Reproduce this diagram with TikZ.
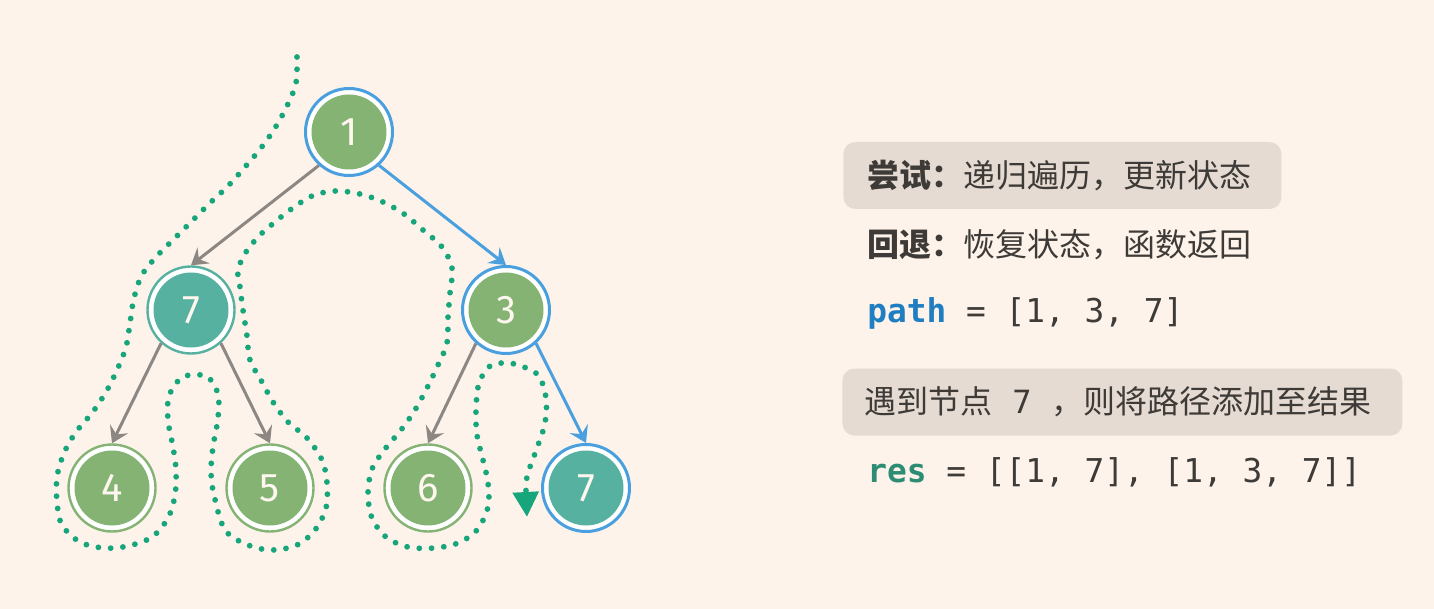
\documentclass[tikz,border=0pt]{standalone}
\usepackage{fontspec}
\setmainfont{Fira Sans}
\newfontfamily\cjk{Noto Sans CJK SC}
\newfontfamily\codefont{DejaVu Sans Mono}
\usetikzlibrary{calc, arrows.meta}
\definecolor{bgcol}{HTML}{FDF3EA}
\definecolor{leafgreen}{HTML}{84B374}
\definecolor{tealfill}{HTML}{56B1A0}
\definecolor{pathblue}{HTML}{4A9FDF}
\definecolor{edgegray}{HTML}{8C8783}
\definecolor{dotgreen}{HTML}{17A67C}
\definecolor{boxgray}{HTML}{E5DBD2}
\definecolor{inktext}{HTML}{3D3A37}
\definecolor{codeblue}{HTML}{1F7DC1}
\definecolor{codeteal}{HTML}{2D8C74}
\definecolor{nodetext}{HTML}{FFF7EF}
\tikzset{treenode/.style 2 args={circle, minimum size=43.5pt, inner sep=0pt,
    draw=#1, line width=1.2pt, fill=white, text=nodetext,
    font=\fontsize{20}{22}\selectfont,
    path picture={\fill[#2] (path picture bounding box.center) circle (18.75pt);}}}
\tikzset{pathnode/.style={treenode={pathblue}{#1}, line width=1.5pt}}
\tikzset{treeedge/.style={draw=edgegray, line width=1.5pt,
    -{Stealth[length=8pt,width=10pt,inset=3pt]}}}
\tikzset{pathedge/.style={treeedge, draw=pathblue}}
\tikzset{trace/.style={draw=dotgreen, line width=2.9pt, line cap=round,
    dash pattern=on 0pt off 6.15pt}}
\tikzset{notebox/.style={fill=boxgray, rounded corners=6pt, anchor=west,
    minimum height=33.5pt, inner xsep=12pt, align=left, text=inktext,
    font=\cjk\fontsize{16}{20}\selectfont}}
\tikzset{noteline/.style={anchor=west, inner sep=0pt, text=inktext,
    font=\cjk\fontsize{16}{20}\selectfont}}
\tikzset{codeline/.style={anchor=west, inner sep=0pt, text=inktext,
    font=\codefont\fontsize{16.4}{20}\selectfont}}

\begin{document}
\begin{tikzpicture}[x=0.5pt, y=-0.5pt]
  \fill[bgcol] (0,0) rectangle (1434,609);
  \useasboundingbox (0,0) rectangle (1434,609);

  % tree
  \node[pathnode=leafgreen] (n1) at (349,132) {1};
  \node[treenode={tealfill}{tealfill}] (n7a) at ($(n1)+(-158,178)$) {7};
  \node[pathnode=leafgreen] (n3) at ($(n1)+(157,178)$) {3};
  \node[treenode={leafgreen}{leafgreen}] (n4) at ($(n7a)+(-79,178)$) {4};
  \node[treenode={leafgreen}{leafgreen}] (n5) at ($(n7a)+(79,178)$) {5};
  \node[treenode={leafgreen}{leafgreen}] (n6) at ($(n3)+(-78,178)$) {6};
  \node[pathnode=tealfill] (n7b) at ($(n3)+(80,178)$) {7};

  \draw[treeedge] (n1.228) -- (n7a.north);
  \draw[pathedge] (n1.312) -- (n3.north);
  \draw[treeedge] (n7a.228) -- (n4.north);
  \draw[treeedge] (n7a.312) -- (n5.north);
  \draw[treeedge] (n3.228) -- (n6.north);
  \draw[pathedge] (n3.312) -- (n7b.north);

  % traversal trace
  \coordinate (tracestart) at (297,57);
  \coordinate (traceend) at (527,517);
  \draw[trace, -{Triangle[length=12.5pt,width=12.5pt]}] plot[smooth, tension=0.55] coordinates {
    (tracestart) (296,83) (287,106) (275,128) (261,148) (245,167) (228,186)
    (210,203) (193,220) (175,238) (157,256) (142,275) (134,298) (130,323)
    (126,347) (117,370) (106,392) (92,413) (76,432) (64,453) (57,477)
    (57,502) (62,525) (80,542) (104,548) (128,546) (152,537) (168,518)
    (175,495) (176,470) (173,447) (168,420) (169,396) (181,378) (195,375)
    (208,377) (218,394) (218,418) (213,447) (211,472) (214,495) (225,530)
    (248,545) (272,550) (297,545) (315,530) (326,508) (327,483) (322,460)
    (307,438) (288,422) (273,402) (262,382) (250,360) (247,336) (243,310)
    (240,287) (238,270) (246,252) (260,235) (275,222) (290,210) (312,196)
    (335,191) (360,194) (383,202) (404,214) (423,230) (442,247) (452,268)
    (450,293) (448,317) (447,343) (438,365) (427,388) (415,410) (401,430)
    (385,449) (372,469) (368,494) (372,518) (386,537) (408,547) (434,548)
    (458,543) (477,530) (488,507) (488,483) (483,460) (477,435) (476,410)
    (479,383) (490,366) (504,363) (518,365) (538,375) (546,398) (545,423)
    (537,448) (529,470) (526,485) (traceend)};

  % notes
  \node[notebox, text width=195pt] (trynote) at (843,175.5)
    {{\bfseries 尝试：}递归遍历，更新状态};
  \node[noteline] (backnote) at (867,245)
    {{\bfseries 回退：}恢复状态，函数返回};
  \node[codeline] (pathline) at (867,313)
    {{\bfseries\color{codeblue}path} = [1, 3, 7]};
  \node[notebox, text width=258pt, inner xsep=11pt] (hitnote) at (842,402)
    {遇到节点\hspace{10pt}{\codefont 7}\hspace{10pt}，则将路径添加至结果};
  \node[codeline] (resline) at (867,472)
    {{\bfseries\color{codeteal}res} = [[1, 7], [1, 3, 7]]};
\end{tikzpicture}
\end{document}
